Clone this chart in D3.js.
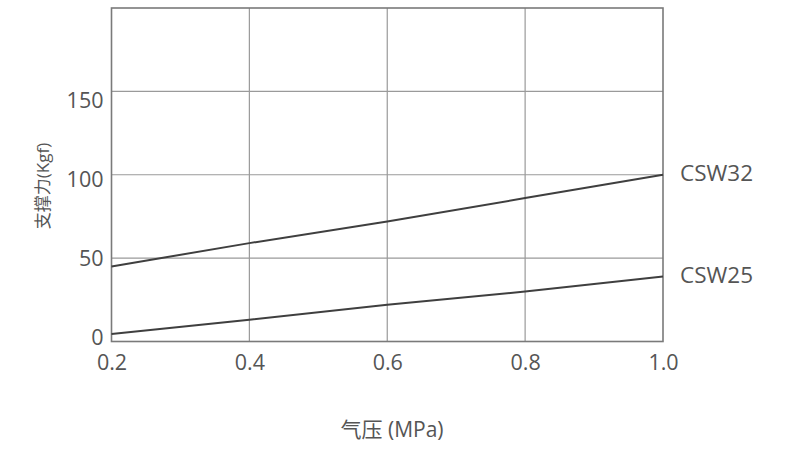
<!DOCTYPE html>
<html>
<head>
<meta charset="utf-8">
<script src="https://cdn.jsdelivr.net/npm/d3@7"></script>
<style>
  html, body { margin: 0; padding: 0; background: #fff; }
  svg text { font-family: "Open Sans", "Noto Sans CJK SC", sans-serif; fill: #555; }
</style>
</head>
<body>
<svg id="chart" width="787" height="452"></svg>
<script>
// Data
const pressures = [0.2, 0.4, 0.6, 0.8, 1.0];
const csw32 = [45, 59, 72, 86, 100];
const csw25 = [4.5, 13, 22, 30, 39];
const seriesNames = ["CSW32", "CSW25"];
const xTicks = [0.2, 0.4, 0.6, 0.8, 1.0];
const yTicks = [0, 50, 100, 150];
const xTitle = "气压 (MPa)";
const yTitle = "支撑力(Kgf)";

const svg = d3.select("#chart");
const mLeft = 111.5, mRight = 663, mTop = 8, mBottom = 341.5;

const x = d3.scaleLinear().domain([0.2, 1.0]).range([mLeft, mRight]);
const y = d3.scaleLinear().domain([0, 200]).range([mBottom, mTop]);
// tick-label placement scale (labels in the reference are spaced slightly tighter than the grid)
const yLab = d3.scaleLinear().domain([0, 150]).range([338, 101]);

// grid
const g = svg.append("g");
g.selectAll("line.vg").data(xTicks.slice(1, -1)).join("line")
  .attr("x1", d => x(d)).attr("x2", d => x(d))
  .attr("y1", mTop).attr("y2", mBottom)
  .attr("stroke", "#9a9a9a").attr("stroke-width", 1.2);
g.selectAll("line.hg").data(yTicks.slice(1)).join("line")
  .attr("x1", mLeft).attr("x2", mRight)
  .attr("y1", d => y(d)).attr("y2", d => y(d))
  .attr("stroke", "#9a9a9a").attr("stroke-width", 1.2);

// border
g.append("rect")
  .attr("x", mLeft).attr("y", mTop)
  .attr("width", mRight - mLeft).attr("height", mBottom - mTop)
  .attr("fill", "none").attr("stroke", "#7a7a7a").attr("stroke-width", 1.6);

// x axis labels
const xAxis = d3.axisBottom(x).tickValues(xTicks).tickFormat(d3.format(".1f")).tickSize(0).tickPadding(13);
const xa = svg.append("g").attr("transform", `translate(0,${mBottom})`).call(xAxis);
xa.select(".domain").remove();
xa.selectAll("text").style("font-size", "21.5px").attr("fill", "#555");

// y axis labels
const yAxis = d3.axisLeft(yLab).tickValues(yTicks).tickFormat(d3.format("d")).tickSize(0).tickPadding(8);
const ya = svg.append("g").attr("transform", `translate(${mLeft},0)`).call(yAxis);
ya.select(".domain").remove();
ya.selectAll("text").style("font-size", "21.5px").attr("fill", "#555");

// lines
const line = d3.line().x((d, i) => x(pressures[i])).y(d => y(d));
const allSeries = [csw32, csw25];
svg.selectAll("path.series").data(allSeries).join("path")
  .attr("class", "series")
  .attr("d", d => line(d))
  .attr("fill", "none").attr("stroke", "#3f3f3f").attr("stroke-width", 2);

// series labels
svg.selectAll("text.slabel").data(allSeries).join("text")
  .attr("class", "slabel")
  .attr("x", mRight + 17)
  .attr("y", d => y(d[d.length - 1]))
  .attr("dy", "0.28em")
  .style("font-size", "22.5px")
  .text((d, i) => seriesNames[i]);

// titles
svg.append("text").attr("x", 392).attr("y", 430).attr("dy", "0.35em")
  .attr("text-anchor", "middle").style("font-size", "21px").text(xTitle);
svg.append("text")
  .attr("transform", "translate(43,186) rotate(-90)")
  .attr("dy", "0.35em").attr("text-anchor", "middle")
  .style("font-size", "17px").text(yTitle);
</script>
</body>
</html>
